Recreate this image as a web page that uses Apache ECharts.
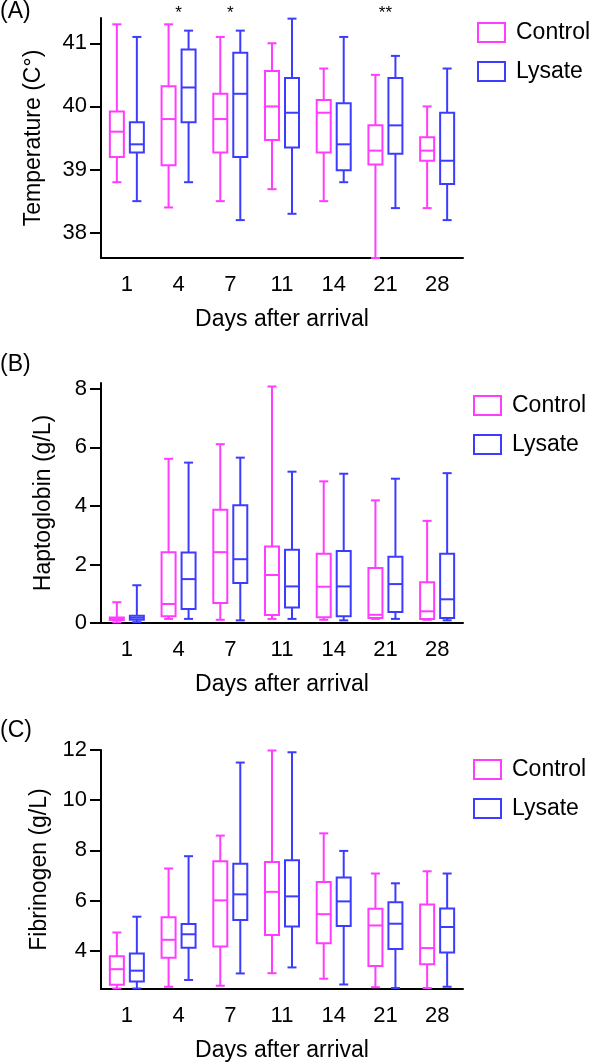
<!DOCTYPE html>
<html><head><meta charset="utf-8">
<script src="https://cdn.jsdelivr.net/npm/echarts@6/dist/echarts.min.js"></script>
<style>html,body{margin:0;padding:0;background:#fff}#c{width:590px;height:1063px}</style>
</head><body><div id="c"></div>
<script>
const days = ['1', '4', '7', '11', '14', '21', '28'];
// each entry: [min, Q1, median, Q3, max]
const tempControl = [
  [38.8, 39.2, 39.6, 39.92, 41.3],
  [38.4, 39.07, 39.8, 40.32, 41.3],
  [38.5, 39.27, 39.8, 40.2, 41.1],
  [38.69, 39.47, 40.0, 40.56, 41.0],
  [38.5, 39.27, 39.9, 40.1, 40.6],
  [37.6, 39.08, 39.3, 39.7, 40.5],
  [38.39, 39.14, 39.3, 39.51, 40.0]
];
const tempLysate = [
  [38.5, 39.27, 39.4, 39.75, 41.1],
  [38.8, 39.75, 40.3, 40.9, 41.2],
  [38.2, 39.2, 40.2, 40.85, 41.2],
  [38.3, 39.35, 39.9, 40.45, 41.39],
  [38.8, 38.99, 39.4, 40.05, 41.1],
  [38.39, 39.25, 39.7, 40.45, 40.8],
  [38.2, 38.77, 39.14, 39.9, 40.6]
];
const hapControl = [
  [0.02, 0.1, 0.15, 0.19, 0.71],
  [0.14, 0.23, 0.65, 2.42, 5.61],
  [0.11, 0.68, 2.42, 3.87, 6.11],
  [0.14, 0.27, 1.64, 2.61, 8.08],
  [0.11, 0.2, 1.24, 2.37, 4.84],
  [0.14, 0.17, 0.28, 1.88, 4.19],
  [0.11, 0.14, 0.4, 1.39, 3.49]
];
const hapLysate = [
  [0.03, 0.11, 0.18, 0.25, 1.29],
  [0.14, 0.48, 1.5, 2.41, 5.48],
  [0.09, 1.37, 2.18, 4.02, 5.65],
  [0.14, 0.53, 1.25, 2.5, 5.17],
  [0.09, 0.23, 1.25, 2.46, 5.1],
  [0.14, 0.38, 1.33, 2.26, 4.93],
  [0.09, 0.17, 0.81, 2.37, 5.12]
];
const fibControl = [
  [2.5, 2.65, 3.27, 3.78, 4.73],
  [2.57, 3.72, 4.44, 5.34, 7.28],
  [2.61, 4.17, 6.01, 7.57, 8.59],
  [3.11, 4.63, 6.35, 7.54, 11.98],
  [2.89, 4.3, 5.46, 6.74, 8.68],
  [2.55, 3.4, 5.01, 5.68, 7.08],
  [2.52, 3.47, 4.11, 5.85, 7.17]
];
const fibLysate = [
  [2.5, 2.78, 3.21, 3.89, 5.36],
  [2.84, 4.12, 4.66, 5.07, 7.77],
  [3.1, 5.23, 6.25, 7.47, 11.5],
  [3.34, 4.97, 6.17, 7.61, 11.91],
  [2.66, 4.99, 5.97, 6.92, 7.98],
  [2.52, 4.07, 5.08, 5.94, 6.69],
  [2.57, 3.93, 4.95, 5.69, 7.08]
];
// significance marks: [day index, label]
const tempStars = [[1, '*'], [2, '*'], [5, '**']];

const tempTicks = [38, 39, 40, 41];
const hapTicks = [0, 2, 4, 6, 8];
const fibTicks = [4, 6, 8, 10, 12];

const MAG = '#ff3cff';
const BLU = '#3c3cff';
const FONT = 'Liberation Sans, Arial, sans-serif';

function boxRender(offset, color) {
  return function (params, api) {
    const i = api.value(0);
    const p = [1, 2, 3, 4, 5].map(k => api.coord([i, api.value(k)]));
    const cx = p[0][0] + offset;
    const yMin = p[0][1], yQ1 = p[1][1], yMed = p[2][1], yQ3 = p[3][1], yMax = p[4][1];
    const hw = 7, cw = 4.5;
    const st = { stroke: color, lineWidth: 2, fill: null };
    return {
      type: 'group', children: [
        { type: 'line', shape: { x1: cx, y1: yMax, x2: cx, y2: yQ3 }, style: st },
        { type: 'line', shape: { x1: cx, y1: yQ1, x2: cx, y2: yMin }, style: st },
        { type: 'line', shape: { x1: cx - cw, y1: yMax, x2: cx + cw, y2: yMax }, style: st },
        { type: 'line', shape: { x1: cx - cw, y1: yMin, x2: cx + cw, y2: yMin }, style: st },
        { type: 'rect', shape: { x: cx - hw, y: yQ3, width: 2 * hw, height: yQ1 - yQ3 }, style: st },
        { type: 'line', shape: { x1: cx - hw, y1: yMed, x2: cx + hw, y2: yMed }, style: st }
      ]
    };
  };
}
function toData(arr) { return arr.map((v, i) => [i].concat(v)); }

const gridTops = [18, 383, 750];
const grids = gridTops.map(t => ({ left: 101, width: 362, top: t, height: 240 }));

function xAx(gi) {
  return {
    type: 'category', gridIndex: gi, data: days,
    axisLine: { lineStyle: { color: '#000', width: 2 } },
    axisTick: { alignWithLabel: true, length: 8, lineStyle: { color: '#000', width: 2 } },
    axisLabel: { color: '#000', fontSize: 22, fontFamily: FONT, margin: 16 },
    name: 'Days after arrival', nameLocation: 'middle', nameGap: 50,
    nameTextStyle: { color: '#000', fontSize: 23, fontFamily: FONT }
  };
}
function yAx(gi, min, max, ticks, name, gap) {
  return {
    type: 'value', gridIndex: gi, min: min, max: max,
    splitLine: { show: false },
    axisLine: { show: true, lineStyle: { color: '#000', width: 2 } },
    axisTick: { show: true, length: 11, customValues: ticks, lineStyle: { color: '#000', width: 2 } },
    axisLabel: { color: '#000', fontSize: 22, fontFamily: FONT, margin: 14, customValues: ticks },
    name: name, nameLocation: 'middle', nameGap: gap,
    nameTextStyle: { color: '#000', fontSize: 23, fontFamily: FONT }
  };
}
function legendFor(top, left) {
  return {
    top: top, left: left, orient: 'vertical', itemWidth: 27, itemHeight: 19, itemGap: 16,
    selectedMode: false, icon: 'rect',
    textStyle: { color: '#000', fontSize: 23, fontFamily: FONT, padding: [0, 0, 0, 6] },
    data: [
      { name: 'Control', icon: 'rect', itemStyle: { color: 'rgba(255,255,255,0)', borderColor: MAG, borderWidth: 2 } },
      { name: 'Lysate', icon: 'rect', itemStyle: { color: 'rgba(255,255,255,0)', borderColor: BLU, borderWidth: 2 } }
    ]
  };
}
function boxSeries(gi, name, arr, off, color) {
  return {
    type: 'custom', name: name, xAxisIndex: gi, yAxisIndex: gi,
    renderItem: boxRender(off, color), data: toData(arr),
    encode: { x: 0, y: [1, 2, 3, 4, 5] }, itemStyle: { color: color }, clip: false, silent: true
  };
}

const option = {
  animation: false,
  backgroundColor: '#fff',
  title: [
    { text: '(A)', left: 0, top: 0, textStyle: { fontSize: 23, fontWeight: 'normal', fontFamily: FONT, color: '#000' }, padding: 0 },
    { text: '(B)', left: 0, top: 353, textStyle: { fontSize: 23, fontWeight: 'normal', fontFamily: FONT, color: '#000' }, padding: 0 },
    { text: '(C)', left: 0, top: 719, textStyle: { fontSize: 23, fontWeight: 'normal', fontFamily: FONT, color: '#000' }, padding: 0 }
  ],
  legend: [legendFor(16, 472), legendFor(389, 468), legendFor(753, 468)],
  grid: grids,
  xAxis: [xAx(0), xAx(1), xAx(2)],
  yAxis: [
    yAx(0, 37.6, 41.4, tempTicks, 'Temperature (C°)', 56),
    yAx(1, 0, 8.2, hapTicks, 'Haptoglobin (g/L)', 46),
    yAx(2, 2.48, 12, fibTicks, 'Fibrinogen (g/L)', 48)
  ],
  series: [
    boxSeries(0, 'Control', tempControl, -10, MAG),
    boxSeries(0, 'Lysate', tempLysate, 10, BLU),
    boxSeries(1, 'Control', hapControl, -10, MAG),
    boxSeries(1, 'Lysate', hapLysate, 10, BLU),
    boxSeries(2, 'Control', fibControl, -10, MAG),
    boxSeries(2, 'Lysate', fibLysate, 10, BLU),
    {
      type: 'custom', name: 'stars', xAxisIndex: 0, yAxisIndex: 0, clip: false, silent: true,
      data: tempStars.map(s => [s[0], 41.47, s[1]]),
      encode: { x: 0, y: 1 },
      renderItem: function (params, api) {
        const c = api.coord([api.value(0), api.value(1)]);
        return { type: 'text', x: c[0], y: c[1], style: { text: tempStars[params.dataIndex][1], fill: '#000', fontSize: 17, fontFamily: FONT, align: 'center', verticalAlign: 'middle' } };
      }
    }
  ]
};
const chart = echarts.init(document.getElementById('c'), null, { renderer: 'canvas' });
chart.setOption(option);
</script>
</body></html>
